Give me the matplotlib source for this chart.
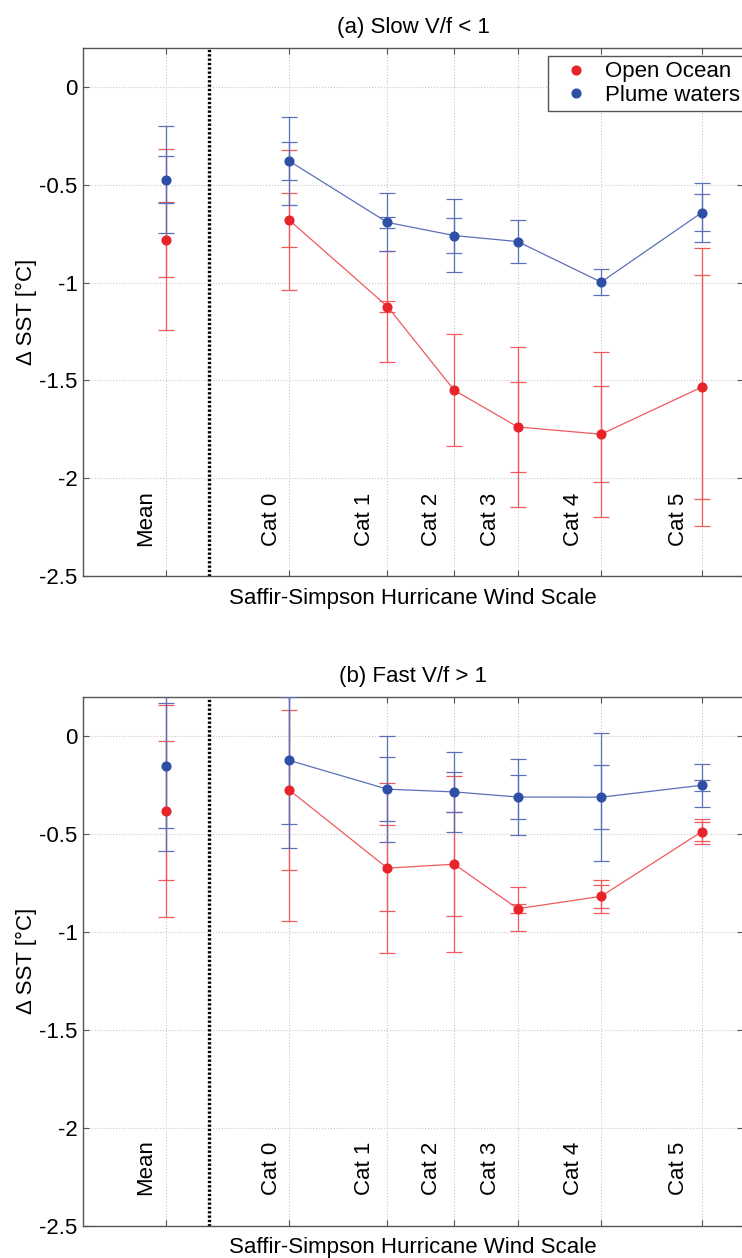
import numpy as np
import matplotlib
matplotlib.use("Agg")
import matplotlib.pyplot as plt
from matplotlib.lines import Line2D
from matplotlib.ticker import FuncFormatter

plt.rcParams['font.family'] = ['Liberation Sans', 'DejaVu Sans']
plt.rcParams['axes.unicode_minus'] = False

# ---------------- data ----------------
mean_label = "Mean"
cat_labels = ["Cat 0", "Cat 1", "Cat 2", "Cat 3", "Cat 4", "Cat 5"]
mean_x = 10.0
cat_x = [25.0, 36.9, 45.0, 52.7, 62.8, 75.0]

series_names = ["Open Ocean", "Plume waters"]

# (a) Slow V/f < 1
open_mean_a, open_mean_inner_a, open_mean_outer_a = -0.78, 0.19, 0.464
open_cat_a = [-0.68, -1.122, -1.55, -1.738, -1.775, -1.534]
open_inner_a = [0.137, 0.026, np.nan, 0.232, 0.246, 0.573]
open_outer_a = [0.356, 0.285, 0.286, 0.41, 0.422, 0.71]

plume_mean_a, plume_mean_inner_a, plume_mean_outer_a = -0.474, 0.12, 0.273
plume_cat_a = [-0.378, -0.692, -0.759, -0.79, -0.997, -0.642]
plume_inner_a = [0.096, 0.026, 0.089, np.nan, np.nan, 0.096]
plume_outer_a = [0.224, 0.148, 0.186, 0.108, 0.068, 0.15]

# (b) Fast V/f > 1
open_mean_b, open_mean_inner_b, open_mean_outer_b = -0.383, 0.355, 0.54
open_cat_b = [-0.277, -0.676, -0.656, -0.883, -0.82, -0.49]
open_inner_b = [0.41, 0.218, 0.265, 0.024, 0.057, 0.049]
open_outer_b = [0.667, 0.435, 0.45, 0.113, 0.083, 0.065]

plume_mean_b, plume_mean_inner_b, plume_mean_outer_b = -0.153, 0.318, 0.434
plume_cat_b = [-0.126, -0.273, -0.287, -0.313, -0.314, -0.253]
plume_inner_b = [0.326, 0.163, 0.104, 0.11, 0.164, 0.029]
plume_outer_b = [0.449, 0.272, 0.205, 0.192, 0.326, 0.109]

titles = ["(a) Slow V/f < 1", "(b) Fast V/f > 1"]
xlabel = "Saffir-Simpson Hurricane Wind Scale"
ylabel = "\u0394 SST [\u00b0C]"
yticks = [-2.5, -2.0, -1.5, -1.0, -0.5, 0.0]

# ---------------- layout / style ----------------
W, H = 742, 1258
DPI = 100
RED = "#e8232a"
BLUE = "#2e4fa6"
RED_L = "#ee5a5e"
BLUE_L = "#5a70b8"
SPINE = "#555555"
FS = 16
divider_x = 15.3
label_x_offsets = [-2.4, -2.1, -2.8, -2.75, -3.35, -3.3, -2.8]  # Mean, Cat0..5
label_y = -2.345

fig = plt.figure(figsize=(W / DPI, H / DPI), dpi=DPI)
ax_a = fig.add_axes([83 / W, 1 - 576 / H, 660 / W, 528 / H])
ax_b = fig.add_axes([83 / W, 1 - 1225.5 / H, 660 / W, 529 / H])

panels = [
    (ax_a, titles[0],
     (open_mean_a, open_mean_inner_a, open_mean_outer_a, open_cat_a, open_inner_a, open_outer_a),
     (plume_mean_a, plume_mean_inner_a, plume_mean_outer_a, plume_cat_a, plume_inner_a, plume_outer_a)),
    (ax_b, titles[1],
     (open_mean_b, open_mean_inner_b, open_mean_outer_b, open_cat_b, open_inner_b, open_outer_b),
     (plume_mean_b, plume_mean_inner_b, plume_mean_outer_b, plume_cat_b, plume_inner_b, plume_outer_b)),
]


def draw_series(ax, vals, color, lcolor):
    m, mi, mo, cy, ci, co = vals
    xs = np.array([mean_x] + cat_x)
    ys = np.array([m] + cy)
    inner = np.array([mi] + ci, dtype=float)
    outer = np.array([mo] + co, dtype=float)
    ax.errorbar(xs, ys, yerr=outer, fmt='none', ecolor=lcolor, elinewidth=0.9,
                capsize=5.5, capthick=0.9, zorder=3)
    ok = ~np.isnan(inner)
    ax.errorbar(xs[ok], ys[ok], yerr=inner[ok], fmt='none', ecolor=lcolor,
                elinewidth=0.9, capsize=5.5, capthick=0.9, zorder=3)
    ax.plot(cat_x, cy, '-', color=lcolor, lw=0.9, zorder=4)
    ax.plot(xs, ys, 'o', color=color, ms=6.3, mec=color, zorder=5)


for ax, title, open_vals, plume_vals in panels:
    ax.set_xlim(0, 80)
    ax.set_ylim(-2.5, 0.2)
    ax.set_xticks([mean_x] + cat_x)
    ax.set_xticklabels([])
    ax.set_yticks(yticks)
    ax.yaxis.set_major_formatter(FuncFormatter(lambda v, p: "%g" % v))
    ax.tick_params(direction='in', length=4, width=0.8, color=SPINE,
                   top=True, right=True, labelsize=FS, pad=4)
    ax.grid(True, color='#c8c8c8', linestyle=':', linewidth=0.8)
    ax.set_axisbelow(True)
    for s in ax.spines.values():
        s.set_color(SPINE)
        s.set_linewidth(1.0)

    ax.axvline(divider_x, color='black', linestyle=(0, (0.7, 0.6)), linewidth=2.4, zorder=2)

    draw_series(ax, open_vals, RED, RED_L)
    draw_series(ax, plume_vals, BLUE, BLUE_L)

    for lab, x, off in zip([mean_label] + cat_labels, [mean_x] + cat_x, label_x_offsets):
        ax.text(x + off, label_y, lab, rotation=90, ha='center', va='bottom', fontsize=FS)

    ax.set_title(title, fontsize=FS, pad=10.5)
    ax.annotate(xlabel, xy=(0.5, 0), xycoords='axes fraction', xytext=(0, -16),
                textcoords='offset points', ha='center', va='center', fontsize=FS)
    bb = ax.get_position()
    fig.text(26 / W, (bb.y0 + bb.y1) / 2, ylabel, rotation=90, ha='center',
             va='center', fontsize=FS)

handles = [Line2D([], [], marker='o', linestyle='none', color=RED, ms=6.3),
           Line2D([], [], marker='o', linestyle='none', color=BLUE, ms=6.3)]
leg = ax_a.legend(handles, series_names, loc='upper right', bbox_to_anchor=(1.004, 0.985),
                  fontsize=FS, frameon=True, fancybox=False, framealpha=1,
                  handlelength=2.0, handletextpad=0.3, borderpad=0.25,
                  labelspacing=0.1, borderaxespad=0.0)
leg.get_frame().set_edgecolor(SPINE)
leg.get_frame().set_linewidth(1.0)

fig.savefig("out.png", dpi=DPI)
